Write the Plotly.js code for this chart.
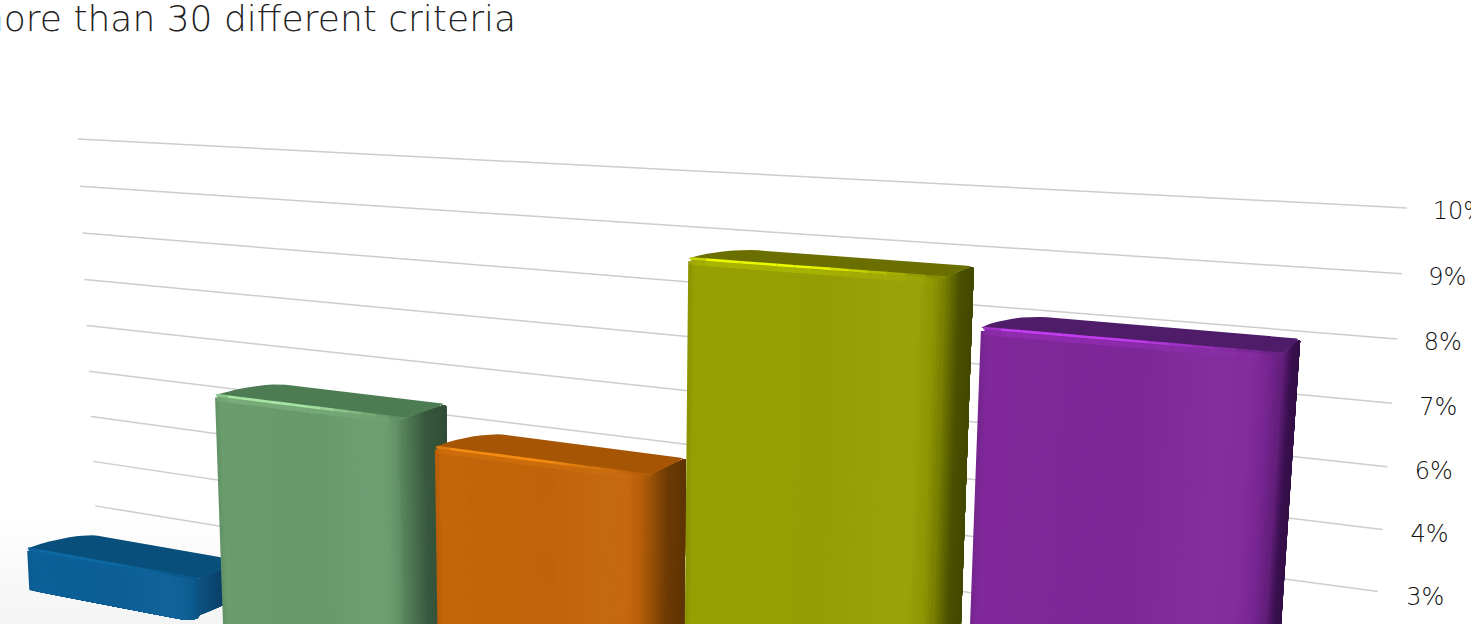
<!DOCTYPE html>
<html><head><meta charset="utf-8"><script src="https://cdn.plot.ly/plotly-3.0.1.min.js"></script>
<style>html,body{margin:0;background:#fff;overflow:hidden}#chart{width:1471px;height:624px}</style></head>
<body><div id="chart"></div><script>
// Chart data
const categories = ['A', 'B', 'C', 'D', 'E'];
const barValues = [1.33, 5.22, 4.75, 8.66, 7.89];
const axisBase = 0.4;
const gridValues = [10, 9, 8, 7, 6, 5, 4, 3, 2];
const tickLabels = ['10%', '9%', '8%', '7%', '6%', '4%', '3%'];
const chartTitle = 'more than 30 different criteria';

// Placement of each bar along the category axis (0 = far end, 1 = near end)
const barSpans = [[-0.0236, 0.1535], [0.1764, 0.3472], [0.3732, 0.5444], [0.5717, 0.746], [0.7696, 0.9466]];
const palettes = [
  {front: '#0c5f97', top: '#084f7c', side: '#0b3f67', glint: '#0e6aa4'},
  {front: '#6a9c6d', top: '#4d7c52', side: '#38583d', glint: '#a9e6a5'},
  {front: '#c4650a', top: '#a65504', side: '#6c3a04', glint: '#f48c12'},
  {front: '#97a003', top: '#6a6f00', side: '#4b5100', glint: '#ecfa00'},
  {front: '#80289b', top: '#4e1c69', side: '#3b1150', glint: '#c43cf0'}
];

// Perspective camera: category position, depth (0 at the wall, 1 at the bar front), axis value
function project(pos, depth, value) {
  const a = 0.2886 * pos, g = 0.00437 * (10 - value), b = -0.03 * depth;
  const w = 1 - a + g + b;
  return [(78 + 3198 * a + 587 * g + 1700 * b) / w, (139 + 31 * a + 11000 * g - 30 * b) / w];
}

function hexRgb(h) { return [1, 3, 5].map(i => parseInt(h.slice(i, i + 2), 16)); }
function mix(c1, c2, t) {
  const p = hexRgb(c1), q = hexRgb(c2);
  return '#' + p.map((v, i) => Math.round(v + (q[i] - v) * t).toString(16).padStart(2, '0')).join('');
}
function ramp(stops, t) {
  for (let i = 1; i < stops.length; i++) {
    if (t <= stops[i][0]) return mix(stops[i - 1][1], stops[i][1], (t - stops[i - 1][0]) / (stops[i][0] - stops[i - 1][0]));
  }
  return stops[stops.length - 1][1];
}
function polygon(points, color) {
  return {type: 'scatter', mode: 'lines', x: points.map(p => p[0]), y: points.map(p => p[1]),
    fill: 'toself', fillcolor: color, line: {width: 0, color: color}, hoverinfo: 'skip', showlegend: false};
}
function segment(a, b, color, width, opacity) {
  return {type: 'scatter', mode: 'lines', x: [a[0], b[0]], y: [a[1], b[1]], opacity: opacity,
    line: {width: width, color: color}, hoverinfo: 'skip', showlegend: false};
}
function roundOff(t, r) { return t >= r ? 0 : 1 - Math.sqrt(1 - Math.pow((r - t) / r, 2)); }
function samples(from, to, count) {
  const out = [];
  for (let i = 0; i <= count; i++) out.push(from + (to - from) * i / count);
  return out;
}

const traces = [];

// Soft shadow on the floor beside the first bar
traces.push(Object.assign(polygon([[0, 515], [240, 515], [240, 624], [0, 624]], '#ffffff'), {
  fillgradient: {type: 'vertical', colorscale: [[0, '#f4f4f4'], [1, '#ffffff']]}
}));

// Wall gridlines
gridValues.forEach(v => {
  traces.push(segment(project(0, 0, v), project(1, 0, v), '#cdcdcd', 1.5, 1));
});

// Value labels beyond the near end of each gridline
const labelPoints = tickLabels.map((t, i) => project(1.0138 + 0.00035 * i, 0, gridValues[i] - 0.05));
traces.push({type: 'scatter', mode: 'text', x: labelPoints.map(p => p[0]), y: labelPoints.map(p => p[1]),
  text: tickLabels, textposition: 'middle right', cliponaxis: false,
  textfont: {family: '"DejaVu Sans", sans-serif', size: 24, weight: 200, color: '#111111'}, hoverinfo: 'skip', showlegend: false});

// Bars, drawn from the far end so each one covers the side of the previous one
barValues.forEach((value, n) => {
  const [x0, x1] = barSpans[n], pal = palettes[n], span = x1 - x0;
  const frontStops = [[0, mix(pal.front, pal.side, 0.18)], [0.03, pal.front], [0.55, mix(pal.front, pal.side, 0.04)],
    [0.8, mix(pal.front, '#ffffff', 0.025)], [0.9, mix(pal.front, '#ffffff', 0.02)], [0.96, mix(pal.front, pal.side, 0.14)], [1, mix(pal.front, pal.side, 0.45)]];
  const sideStops = [[0, mix(pal.front, pal.side, 0.45)], [0.5, pal.side], [1, mix(pal.side, '#000000', 0.12)]];

  // Front face: each strip runs on to the far edge and the next one paints over it
  const frontTop = t => value - 0.05 * roundOff(t, 0.025);
  const frontBot = t => axisBase + 0.16 * roundOff(1 - t, 0.12);
  const frontSteps = 80;
  for (let i = 0; i < frontSteps; i++) {
    const along = samples(i / frontSteps, 1, 8).concat([0.88, 0.92, 0.96, 0.98, 1]).filter(t => t >= i / frontSteps).sort((p, q) => p - q);
    const pts = along.map(t => project(x0 + span * t, 1, frontTop(t)))
      .concat(along.slice().reverse().map(t => project(x0 + span * t, 1, frontBot(t))));
    traces.push(polygon(pts, ramp(frontStops, (i + 0.5) / frontSteps)));
  }

  // Right-hand side face, painted the same way towards the rear
  const sideTop = d => value - 0.05 * roundOff(d, 0.2);
  const sideBot = d => axisBase + 0.16 + 0.2 * roundOff(d, 0.6);
  const sideSteps = 24;
  for (let i = 0; i < sideSteps; i++) {
    const start = 1 - i / sideSteps;
    const along = samples(start, 0, 10);
    const pts = along.map(d => project(x1, d, sideTop(d)))
      .concat(along.slice().reverse().map(d => project(x1, d, sideBot(d))));
    traces.push(polygon(pts, ramp(sideStops, i / (sideSteps - 1))));
  }

  // Top face with rounded rear corners
  const outline = [[x0, 1]];
  const rearLeft = 0.9, rearLeftX = 0.14 * span, rearRight = 0.2, rearRightX = 0.02 * span;
  for (let k = 0; k <= 8; k++) {
    const th = k / 8 * Math.PI / 2;
    outline.push([x0 + rearLeftX * (1 - Math.cos(th)), rearLeft * (1 - Math.sin(th))]);
  }
  for (let k = 0; k <= 8; k++) {
    const th = k / 8 * Math.PI / 2;
    outline.push([x1 - rearRightX * (1 - Math.sin(th)), rearRight * (1 - Math.cos(th))]);
  }
  outline.push([x1, 1]);
  traces.push(polygon(outline.map(p => project(p[0], p[1], value)), pal.top));

  // Bright rim along the upper front edge, fading towards both ends, with a glow on the front face
  const rimSteps = 14;
  for (let i = 0; i < rimSteps; i++) {
    const t0 = Math.max(0.008, i / rimSteps), t1 = (i + 1) / rimSteps, mid = (t0 + t1) / 2;
    const strength = mid < 0.06 ? mid / 0.06 : mid < 0.5 ? 1 : Math.max(0, (0.98 - mid) / 0.48);
    const col = mix(mix(pal.front, pal.top, 0.5), pal.glint, strength);
    const at = (t, v) => project(x0 + span * t, 1, v);
    traces.push(segment(at(t0, value - 0.07), at(t1, value - 0.07), pal.glint, 5, 0.22 * strength));
    traces.push(segment(at(t0, value), at(t1, value), col, 2.6, 1));
  }
});

const layout = {
  width: 1471, height: 624, autosize: false, margin: {l: 0, r: 0, t: 0, b: 0, pad: 0},
  paper_bgcolor: '#ffffff', plot_bgcolor: '#ffffff', showlegend: false, hovermode: false,
  title: {text: chartTitle, x: 516 / 1471, xanchor: 'right', xref: 'paper', y: 1 - 18 / 624, yanchor: 'middle', yref: 'container',
    font: {family: '"DejaVu Sans", sans-serif', size: 36, weight: 200, color: '#222222'}},
  xaxis: {range: [0, 1471], visible: false, fixedrange: true},
  yaxis: {range: [624, 0], visible: false, fixedrange: true}
};
Plotly.newPlot('chart', traces, layout, {displayModeBar: false, staticPlot: true});
</script></body></html>
